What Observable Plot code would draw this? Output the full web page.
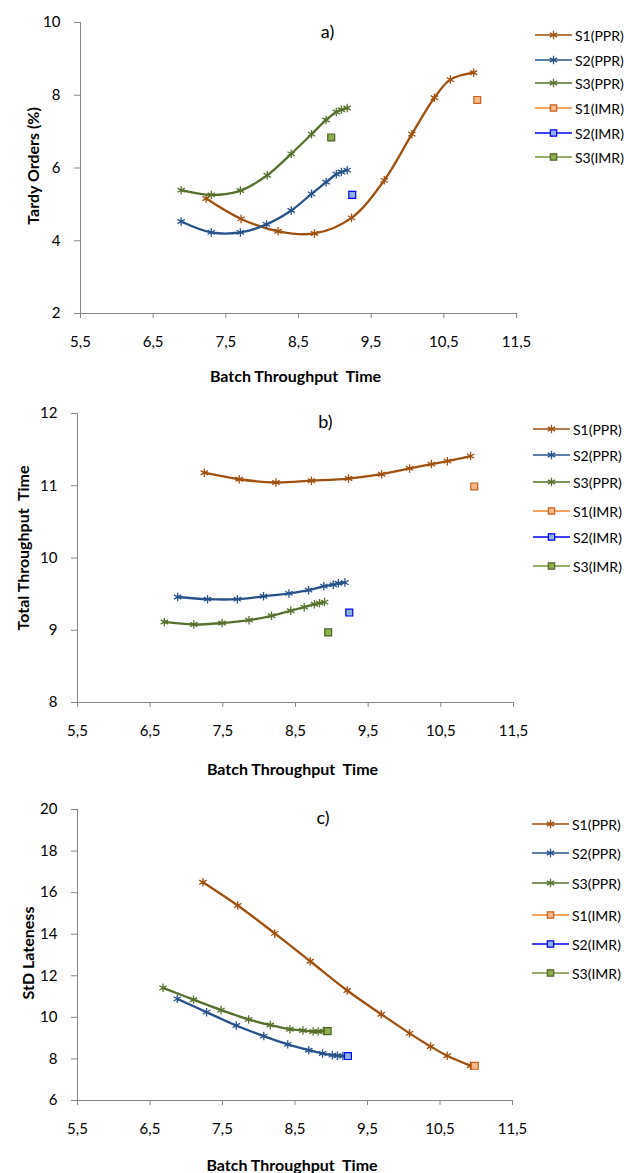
<!DOCTYPE html>
<html><head><meta charset="utf-8">
<script src="https://cdn.jsdelivr.net/npm/d3@7"></script>
<script src="https://cdn.jsdelivr.net/npm/@observablehq/plot@0.6"></script>
<style>
body{margin:0;background:#fff;font-family:Lato,"Open Sans",sans-serif;}
#root{position:relative;width:624px;height:1173px;overflow:hidden;}
.panel{position:absolute;left:0;width:624px;}
.panel svg text{white-space:pre;}
.leg{position:absolute;left:0;top:0;font:14px Lato,sans-serif;color:#000;}
.leg .item{position:absolute;display:flex;align-items:center;white-space:nowrap;height:16px;transform:translateY(-8px);}
</style></head><body><div id="root"></div><script>
// ---------- shared ----------
const xTicks = [5.5, 6.5, 7.5, 8.5, 9.5, 10.5, 11.5];
const seriesNames = ["S1(PPR)", "S2(PPR)", "S3(PPR)", "S1(IMR)", "S2(IMR)", "S3(IMR)"];
const xTitle = "Batch Throughput  Time";

// ---------- panel a) Tardy Orders (%) ----------
const aTicksY = [2, 4, 6, 8, 10];
const aS1PPRx = [7.23, 7.71, 8.22, 8.72, 9.23, 9.68, 10.06, 10.37, 10.59, 10.91];
const aS1PPRy = [5.16, 4.60, 4.26, 4.20, 4.63, 5.66, 6.93, 7.93, 8.43, 8.62];
const aS2PPRx = [6.885, 7.30, 7.70, 8.06, 8.40, 8.68, 8.88, 9.02, 9.09, 9.17];
const aS2PPRy = [4.53, 4.23, 4.23, 4.45, 4.83, 5.29, 5.61, 5.83, 5.89, 5.94];
const aS3PPRx = [6.885, 7.30, 7.70, 8.07, 8.40, 8.68, 8.88, 9.02, 9.09, 9.17];
const aS3PPRy = [5.39, 5.26, 5.38, 5.80, 6.39, 6.93, 7.32, 7.54, 7.60, 7.65];
const aS1IMRx = [10.96], aS1IMRy = [7.87];
const aS2IMRx = [9.24], aS2IMRy = [5.26];
const aS3IMRx = [8.95], aS3IMRy = [6.84];

// ---------- panel b) Total Throughput Time ----------
const bTicksY = [8, 9, 10, 11, 12];
const bS1PPRx = [7.245, 7.725, 8.23, 8.72, 9.23, 9.685, 10.07, 10.37, 10.59, 10.91];
const bS1PPRy = [11.18, 11.09, 11.045, 11.07, 11.10, 11.16, 11.24, 11.30, 11.34, 11.41];
const bS2PPRx = [6.878, 7.29, 7.70, 8.06, 8.41, 8.68, 8.89, 9.02, 9.09, 9.18];
const bS2PPRy = [9.46, 9.43, 9.43, 9.47, 9.51, 9.555, 9.61, 9.63, 9.65, 9.66];
const bS3PPRx = [6.695, 7.10, 7.49, 7.86, 8.17, 8.435, 8.62, 8.76, 8.83, 8.90];
const bS3PPRy = [9.115, 9.08, 9.10, 9.14, 9.20, 9.27, 9.32, 9.36, 9.375, 9.39];
const bS1IMRx = [10.96], bS1IMRy = [10.99];
const bS2IMRx = [9.24], bS2IMRy = [9.245];
const bS3IMRx = [8.95], bS3IMRy = [8.97];

// ---------- panel c) StD Lateness ----------
const cTicksY = [6, 8, 10, 12, 14, 16, 18, 20];
const cS1PPRx = [7.23, 7.71, 8.22, 8.71, 9.22, 9.69, 10.08, 10.37, 10.60, 10.92];
const cS1PPRy = [16.50, 15.38, 14.04, 12.70, 11.29, 10.15, 9.23, 8.60, 8.15, 7.67];
const cS2PPRx = [6.876, 7.28, 7.69, 8.07, 8.40, 8.69, 8.88, 9.015, 9.085, 9.16];
const cS2PPRy = [10.89, 10.25, 9.61, 9.10, 8.70, 8.42, 8.26, 8.18, 8.15, 8.14];
const cS3PPRx = [6.68, 7.10, 7.48, 7.86, 8.16, 8.43, 8.61, 8.75, 8.82, 8.89];
const cS3PPRy = [11.42, 10.85, 10.35, 9.90, 9.63, 9.43, 9.37, 9.32, 9.32, 9.34];
const cS1IMRx = [10.98], cS1IMRy = [7.67];
const cS2IMRx = [9.23], cS2IMRy = [8.14];
const cS3IMRx = [8.95], cS3IMRy = [9.34];

// ---------- styles ----------
const lineColors = ["#A0500F", "#27538A", "#56712D", "#F0842F", "#0000FF", "#77933C"];
const markFill = [null, null, null, "#F9B98B", "#8EB4E3", "#8DB04C"];
const markStroke = ["#A0500F", "#27538A", "#56712D", "#C5621E", "#0000FF", "#4F6228"];
const axisGrey = "#868686";

const zip = (xs, ys) => xs.map((x, i) => ({x, y: ys[i]}));
const fmt = d => String(d).replace(".", ",");

function panel(o) {
  const marks = [];
  marks.push(Plot.ruleX([xTicks[0]], {stroke: axisGrey, strokeWidth: 1}));
  marks.push(Plot.ruleY([o.yTicks[0]], {stroke: axisGrey, strokeWidth: 1}));
  marks.push(Plot.axisX({ticks: xTicks, tickFormat: fmt, tickSize: 5, tickPadding: 18, stroke: axisGrey, fill: "#000", label: null, fontSize: 15}));
  marks.push(Plot.axisY({ticks: o.yTicks, tickFormat: fmt, tickSize: 6, tickPadding: 14, stroke: axisGrey, fill: "#000", label: null, fontSize: 15}));
  o.ppr.forEach((s, i) => {
    const data = zip(s[0], s[1]);
    marks.push(Plot.line(data, {x: "x", y: "y", curve: "catmull-rom", stroke: lineColors[i], strokeWidth: 2.3}));
    marks.push(Plot.dot(data, {x: "x", y: "y", symbol: "asterisk", r: 4, stroke: markStroke[i], strokeWidth: 1.3}));
  });
  o.imr.forEach((s, i) => {
    const data = zip(s[0], s[1]);
    marks.push(Plot.dot(data, {x: "x", y: "y", symbol: "square", r: 3.9, fill: markFill[i + 3], stroke: markStroke[i + 3], strokeWidth: 1.2}));
  });
  marks.push(Plot.text([o.tag], {frameAnchor: "top", dx: o.tagDx, dy: o.tagDy, fontSize: 18, lineAnchor: "middle", fill: "#000"}));
  marks.push(Plot.text([o.yTitle], {frameAnchor: "left", rotate: -90, dx: o.yTitleDx, dy: o.yTitleDy, textAnchor: "middle", lineAnchor: "middle", fontWeight: "bold", fontSize: 16, fill: "#000"}));
  marks.push(Plot.text([xTitle], {frameAnchor: "bottom", dx: -3, dy: o.xTitleDy, textAnchor: "middle", lineAnchor: "middle", fontWeight: "bold", fontSize: 16, fill: "#000"}));
  return Plot.plot({
    width: 624, height: o.height,
    marginLeft: o.ml, marginRight: o.mr, marginTop: o.mt, marginBottom: o.mb,
    style: {fontFamily: "Lato, sans-serif", fontSize: "15px", background: "#fff", overflow: "visible"},
    x: {domain: [xTicks[0], xTicks[xTicks.length - 1]]},
    y: {domain: [o.yTicks[0], o.yTicks[o.yTicks.length - 1]]},
    marks
  });
}

function legend(cfg) {
  const div = document.createElement("div");
  div.className = "leg";
  seriesNames.forEach((name, i) => {
    const it = document.createElement("div");
    it.className = "item";
    it.style.left = cfg.x0 + "px";
    it.style.top = cfg.ys[i] + "px";
    const w = cfg.lineW;
    const svg = d3.create("svg").attr("width", w + 3).attr("height", 16);
    svg.append("line").attr("x1", 0).attr("x2", w).attr("y1", 8).attr("y2", 8).attr("stroke", lineColors[i]).attr("stroke-width", 1.6);
    if (i < 3) {
      svg.append("path").attr("d", d3.symbol(d3.symbolAsterisk, Math.PI * 16)()).attr("transform", `translate(${w / 2},8)`).attr("fill", "none").attr("stroke", markStroke[i]).attr("stroke-width", 1.3);
    } else {
      svg.append("path").attr("d", d3.symbol(d3.symbolSquare, Math.PI * 3.6 * 3.6)()).attr("transform", `translate(${w / 2},8)`).attr("fill", markFill[i]).attr("stroke", markStroke[i]).attr("stroke-width", 1.2);
    }
    it.appendChild(svg.node());
    const t = document.createElement("span");
    t.textContent = name;
    it.appendChild(t);
    div.appendChild(it);
  });
  return div;
}

const panels = [
  {top: 0, height: 390, ml: 80, mr: 108, mt: 22, mb: 77, yTicks: aTicksY, tag: "a)", tagDx: 29, tagDy: 10, yTitle: "Tardy Orders (%)", yTitleDx: -47, yTitleDy: -2, xTitleDy: 63,
   ppr: [[aS1PPRx, aS1PPRy], [aS2PPRx, aS2PPRy], [aS3PPRx, aS3PPRy]], imr: [[aS1IMRx, aS1IMRy], [aS2IMRx, aS2IMRy], [aS3IMRx, aS3IMRy]],
   leg: {x0: 535, lineW: 37, ys: [35, 60, 83, 108, 133, 157]}},
  {top: 390, height: 390, ml: 77, mr: 111, mt: 23, mb: 78, yTicks: bTicksY, tag: "b)", tagDx: 30, tagDy: 9, yTitle: "Total Throughput  Time", yTitleDx: -54, yTitleDy: -10, xTitleDy: 67,
   ppr: [[bS1PPRx, bS1PPRy], [bS2PPRx, bS2PPRy], [bS3PPRx, bS3PPRy]], imr: [[bS1IMRx, bS1IMRy], [bS2IMRx, bS2IMRy], [bS3IMRx, bS3IMRy]],
   leg: {x0: 533, lineW: 37, ys: [39, 65, 92, 121, 147, 176]}},
  {top: 780, height: 393, ml: 77, mr: 112, mt: 29, mb: 73, yTicks: cTicksY, tag: "c)", tagDx: 28, tagDy: 9, yTitle: "StD Lateness", yTitleDx: -49, yTitleDy: -2, xTitleDy: 65,
   ppr: [[cS1PPRx, cS1PPRy], [cS2PPRx, cS2PPRy], [cS3PPRx, cS3PPRy]], imr: [[cS1IMRx, cS1IMRy], [cS2IMRx, cS2IMRy], [cS3IMRx, cS3IMRy]],
   leg: {x0: 532, lineW: 37, ys: [44, 73, 103, 135, 164, 193]}}
];

const root = document.getElementById("root");
panels.forEach(p => {
  const d = document.createElement("div");
  d.className = "panel";
  d.style.top = p.top + "px";
  d.style.height = p.height + "px";
  d.appendChild(panel(p));
  d.appendChild(legend(p.leg));
  root.appendChild(d);
});
</script></body></html>
